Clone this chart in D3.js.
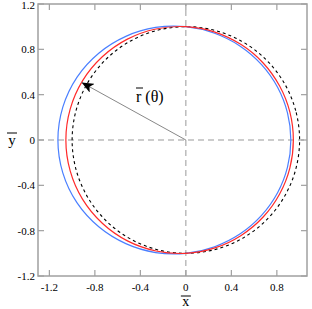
<!DOCTYPE html>
<html><head><meta charset="utf-8">
<script src="https://cdn.jsdelivr.net/npm/d3@7"></script>
<style>body{margin:0;background:#fff}svg{display:block}</style>
</head><body>
<svg id="c" width="312" height="309"></svg>
<script>
const thetaDeg = [0,15,30,45,60,75,90,105,120,135,150,165,180,195,210,225,240,255,270,285,300,315,330,345];
const rDashed = [1,1,1,1,1,1,1,1,1,1,1,1,1,1,1,1,1,1,1,1,1,1,1,1];
const rRed = [0.945,0.947,0.952,0.961,0.972,0.986,1.000,1.014,1.028,1.039,1.048,1.053,1.055,1.053,1.048,1.039,1.028,1.014,1.000,0.986,0.972,0.961,0.952,0.947];
const rBlue = [0.923,0.925,0.931,0.941,0.956,0.975,1.000,1.028,1.056,1.083,1.106,1.120,1.125,1.120,1.106,1.083,1.056,1.028,1.000,0.975,0.956,0.941,0.931,0.925];
const xTicks = [-1.2,-0.8,-0.4,0,0.4,0.8];
const yTicks = [-1.2,-0.8,-0.4,0,0.4,0.8,1.2];
const arrowTheta = 151;

const svg = d3.select("#c");
const x = d3.scaleLinear().domain([-1.3,1.065]).range([38,307]);
const y = d3.scaleLinear().domain([-1.2,1.2]).range([276,4]);
const frame = "#a0a0a0";
const font = "Liberation Serif, Times New Roman, DejaVu Serif, serif";

svg.append("line").attr("x1",x(-1.3)).attr("x2",x(1.065)).attr("y1",y(0)).attr("y2",y(0))
  .attr("stroke","#999").attr("stroke-dasharray","6,4").attr("stroke-width",1);
svg.append("line").attr("x1",x(0)).attr("x2",x(0)).attr("y1",y(-1.2)).attr("y2",y(1.2))
  .attr("stroke","#999").attr("stroke-dasharray","6,4").attr("stroke-width",1);

function pts(rs){ return thetaDeg.map((t,i)=>{const a=t*Math.PI/180; return [x(rs[i]*Math.cos(a)), y(rs[i]*Math.sin(a))];}); }
const line = d3.line().curve(d3.curveCatmullRomClosed);
svg.append("path").attr("d",line(pts(rDashed))).attr("fill","none").attr("stroke","#000")
  .attr("stroke-width",1.1).attr("stroke-dasharray","3,3");
svg.append("path").attr("d",line(pts(rBlue))).attr("fill","none").attr("stroke","#4a7fff").attr("stroke-width",1.2);
svg.append("path").attr("d",line(pts(rRed))).attr("fill","none").attr("stroke","#ff2a2a").attr("stroke-width",1.2);

const defs = svg.append("defs");
defs.append("marker").attr("id","ah").attr("viewBox","0 0 12 10").attr("refX",12).attr("refY",5)
  .attr("markerWidth",12).attr("markerHeight",10).attr("markerUnits","userSpaceOnUse").attr("orient","auto")
  .append("path").attr("d","M0,0 L12,5 L0,10 L3,5 Z").attr("fill","#000");
const ar = rRed[thetaDeg.indexOf(150)];
const aa = arrowTheta*Math.PI/180;
svg.append("line").attr("x1",x(0)).attr("y1",y(0)).attr("x2",x(ar*Math.cos(aa))).attr("y2",y(ar*Math.sin(aa)))
  .attr("stroke","#888").attr("stroke-width",1).attr("marker-end","url(#ah)");

svg.append("text").attr("x",136).attr("y",102).attr("font-family",font).attr("font-size",16).attr("fill","#000")
  .attr("xml:space","preserve").style("white-space","pre").text("r (θ)");
svg.append("line").attr("x1",136).attr("x2",143).attr("y1",88).attr("y2",88).attr("stroke","#000").attr("stroke-width",1);

svg.append("rect").attr("x",x(-1.3)).attr("y",y(1.2)).attr("width",x(1.065)-x(-1.3)).attr("height",y(-1.2)-y(1.2))
  .attr("fill","none").attr("stroke",frame).attr("stroke-width",1.5);

const tk = svg.append("g").attr("stroke",frame).attr("stroke-width",1.2);
xTicks.forEach(v=>{
  tk.append("line").attr("x1",x(v)).attr("x2",x(v)).attr("y1",y(-1.2)).attr("y2",y(-1.2)-6);
  tk.append("line").attr("x1",x(v)).attr("x2",x(v)).attr("y1",y(1.2)).attr("y2",y(1.2)+6);
});
yTicks.forEach(v=>{
  tk.append("line").attr("y1",y(v)).attr("y2",y(v)).attr("x1",x(-1.3)).attr("x2",x(-1.3)+6);
  tk.append("line").attr("y1",y(v)).attr("y2",y(v)).attr("x1",x(1.065)).attr("x2",x(1.065)-6);
});

const fmt = v => v===0 ? "0" : d3.format(".1f")(v).replace("−","-");
svg.append("g").selectAll("text").data(xTicks).join("text")
  .attr("x",d=>x(d)).attr("y",291).attr("text-anchor","middle")
  .attr("font-family",font).attr("font-size",11).attr("fill","#000").text(fmt);
svg.append("g").selectAll("text").data(yTicks).join("text")
  .attr("x",35).attr("y",d=>Math.max(y(d)+4,9)).attr("text-anchor","end")
  .attr("font-family",font).attr("font-size",11).attr("fill","#000").text(fmt);

svg.append("text").attr("x",x(0)).attr("y",306).attr("text-anchor","middle").attr("font-family",font).attr("font-size",14).text("x");
svg.append("line").attr("x1",x(0)-5).attr("x2",x(0)+5).attr("y1",296).attr("y2",296).attr("stroke","#000").attr("stroke-width",1);
svg.append("text").attr("x",12).attr("y",145).attr("text-anchor","middle").attr("font-family",font).attr("font-size",15).text("y");
svg.append("line").attr("x1",7).attr("x2",17).attr("y1",133).attr("y2",133).attr("stroke","#000").attr("stroke-width",1);
</script>
</body></html>
